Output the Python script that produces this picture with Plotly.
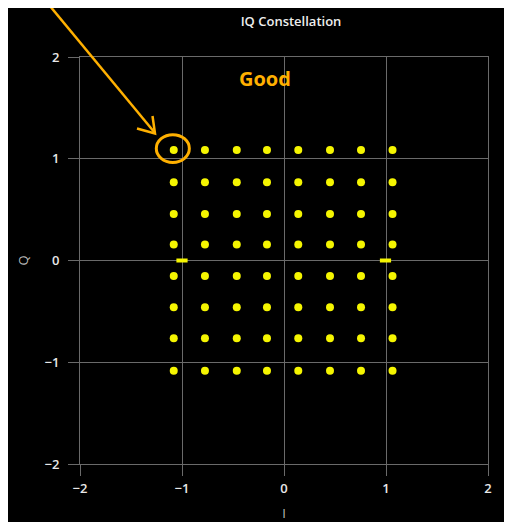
import plotly.graph_objects as go

# ---- data ----
i_levels = [-1.081, -0.775, -0.463, -0.167, 0.140, 0.451, 0.755, 1.064]
q_levels = [1.086, 0.770, 0.457, 0.157, -0.152, -0.460, -0.765, -1.083]
pilot_i = [-1.00, 0.995]
pilot_q = [0.0, 0.0]
x_ticks = [-2, -1, 0, 1, 2]
y_ticks = [-2, -1, 0, 1, 2]
highlight_point = (-1.09, 1.10)

pts_i, pts_q = [], []
for q in q_levels:
    for i in i_levels:
        pts_i.append(i)
        pts_q.append(q)

OFF = 8  # page body margin
W, H = 504, 514
ML, MR, MT, MB = 72, 24, 49, 58
PW, PH = W - ML - MR, H - MT - MB


def px(x):  # screenshot x -> paper
    return (x - OFF - ML) / PW


def py(y):  # screenshot y -> paper
    return (H - MB - (y - OFF)) / PH


ORANGE = "#FFB000"
YELLOW = "#F5F500"
GRID = "#6a6a6a"
FONT = "Open Sans"

fig = go.Figure()
fig.add_trace(go.Scatter(
    x=pts_i, y=pts_q, mode="markers",
    marker=dict(color=YELLOW, size=8, symbol="circle", line=dict(width=0)),
    hoverinfo="skip", showlegend=False))
fig.add_trace(go.Scatter(
    x=pilot_i, y=pilot_q, mode="markers",
    marker=dict(color=YELLOW, size=8, symbol="line-ew",
                line=dict(color=YELLOW, width=4)),
    hoverinfo="skip", showlegend=False))

axis_common = dict(
    range=[-2, 2], showgrid=True, gridcolor=GRID, gridwidth=1,
    zeroline=True, zerolinecolor=GRID, zerolinewidth=1,
    showline=True, linecolor=GRID, linewidth=1, mirror=True,
    ticks="outside", tickcolor=GRID, ticklen=11, automargin=False,
    tickfont=dict(family=FONT, size=13, color="#e8e8e8", weight=600),
)
fig.update_xaxes(**axis_common, tickvals=x_ticks, ticklabelstandoff=1,
                 title=dict(text="I", font=dict(family=FONT, size=13, color="#bbbbbb"), standoff=14))
fig.update_yaxes(**axis_common, tickvals=y_ticks, ticklabelstandoff=6,
                 title=dict(text="Q", font=dict(family=FONT, size=13, color="#bbbbbb"), standoff=12))

shapes = [
    # highlight circle
    dict(type="circle", xref="x", yref="y",
         x0=highlight_point[0] - 0.162, x1=highlight_point[0] + 0.162,
         y0=highlight_point[1] - 0.137, y1=highlight_point[1] + 0.137,
         line=dict(color=ORANGE, width=3)),
    # arrow line
    dict(type="line", xref="paper", yref="paper", x0=px(40), y0=py(-6), x1=px(155), y1=py(133),
         line=dict(color=ORANGE, width=2.5)),
    # arrow head (open chevron)
    dict(type="path", xref="paper", yref="paper",
         path=f"M {px(137)},{py(128.5)} L {px(155)},{py(133.5)} L {px(152.5)},{py(116)}",
         line=dict(color=ORANGE, width=2.5)),
]

fig.update_layout(
    width=W, height=H,
    margin=dict(l=ML, r=MR, t=MT, b=MB, autoexpand=False),
    paper_bgcolor="black", plot_bgcolor="black",
    title=dict(text="IQ Constellation", x=px(291), xref="paper", xanchor="center",
               y=1 - (21 - OFF) / H, yref="container", yanchor="middle", automargin=False,
               font=dict(family=FONT, size=13, color="#eeeeee", weight=600)),
    shapes=shapes,
    annotations=[dict(text="<b>Good</b>", x=-0.19, y=1.79, xref="x", yref="y",
                      showarrow=False, font=dict(family=FONT, size=20, color=ORANGE))],
    showlegend=False,
)

fig.write_html("out.html")
